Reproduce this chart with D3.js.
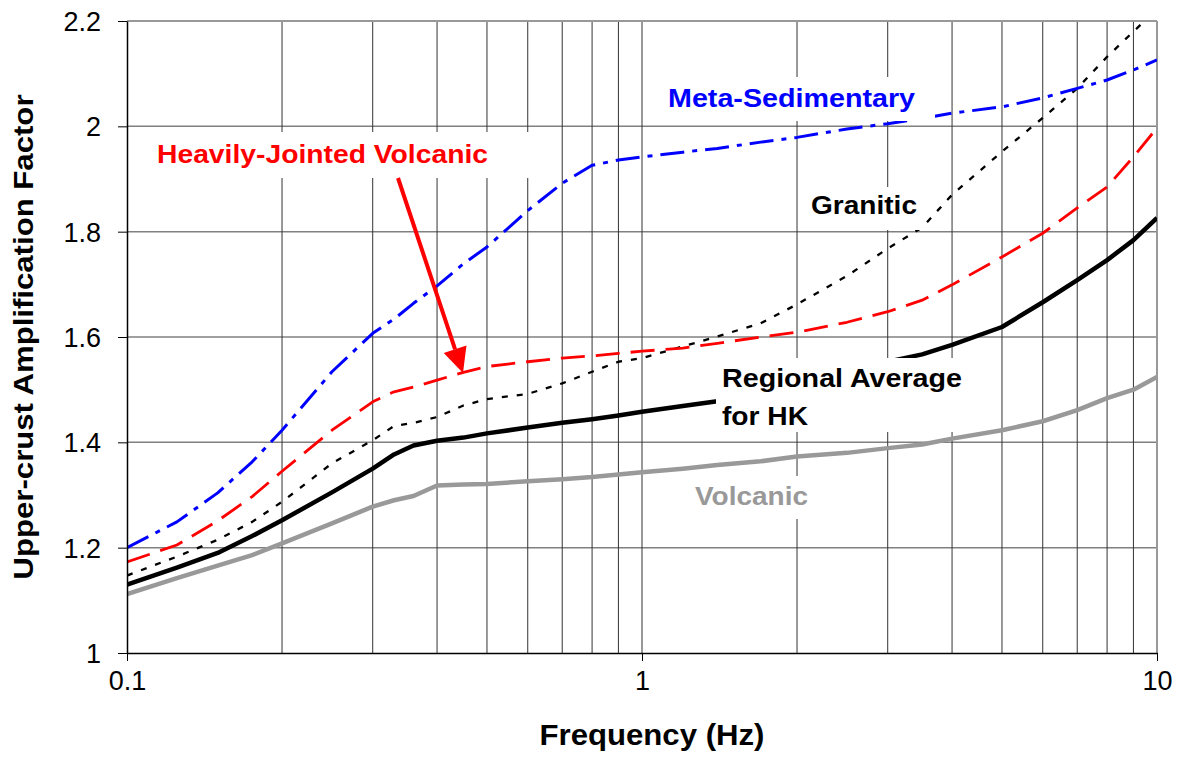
<!DOCTYPE html>
<html><head><meta charset="utf-8">
<script src="https://cdn.jsdelivr.net/npm/d3@7"></script>
<style>
html,body{margin:0;padding:0;background:#fff;}
svg{display:block;font-family:"Liberation Sans",Arial,sans-serif;}
</style></head>
<body>
<svg id="chart" width="1185" height="758"></svg>
<script>
// ---- data ----
const freq = [0.1, 0.125, 0.15, 0.175, 0.2, 0.25, 0.3, 0.33, 0.36, 0.4, 0.45, 0.5, 0.6, 0.7, 0.8, 0.9, 1, 1.2, 1.4, 1.7, 2, 2.5, 3, 3.5, 4, 5, 6, 7, 8, 9, 10];
const regional = [1.130, 1.162, 1.190, 1.222, 1.252, 1.305, 1.350, 1.377, 1.394, 1.403, 1.409, 1.417, 1.428, 1.437, 1.444, 1.451, 1.458, 1.469, 1.478, 1.494, 1.510, 1.533, 1.553, 1.567, 1.585, 1.619, 1.666, 1.708, 1.746, 1.784, 1.826];
const volcanic = [1.112, 1.142, 1.166, 1.186, 1.208, 1.246, 1.278, 1.290, 1.298, 1.318, 1.320, 1.321, 1.326, 1.330, 1.334, 1.339, 1.343, 1.350, 1.357, 1.364, 1.373, 1.380, 1.389, 1.396, 1.407, 1.423, 1.440, 1.461, 1.484, 1.500, 1.524];
const heavilyJointed = [1.173, 1.205, 1.251, 1.297, 1.345, 1.423, 1.477, 1.496, 1.505, 1.518, 1.533, 1.544, 1.553, 1.560, 1.564, 1.569, 1.573, 1.579, 1.588, 1.600, 1.609, 1.628, 1.648, 1.670, 1.699, 1.752, 1.797, 1.845, 1.885, 1.942, 1.997];
const granitic = [1.147, 1.183, 1.215, 1.249, 1.287, 1.360, 1.404, 1.431, 1.437, 1.448, 1.470, 1.482, 1.492, 1.512, 1.534, 1.553, 1.560, 1.582, 1.601, 1.626, 1.662, 1.716, 1.768, 1.808, 1.870, 1.952, 2.016, 2.072, 2.132, 2.180, 2.222];
const metaSedimentary = [1.200, 1.249, 1.304, 1.363, 1.423, 1.534, 1.607, 1.634, 1.664, 1.697, 1.739, 1.771, 1.840, 1.892, 1.926, 1.936, 1.942, 1.951, 1.958, 1.970, 1.979, 1.995, 2.005, 2.015, 2.025, 2.037, 2.054, 2.072, 2.088, 2.107, 2.126];
const xTicks = [0.1, 1, 10];
const xTickLabels = ["0.1", "1", "10"];
const yTicks = [1, 1.2, 1.4, 1.6, 1.8, 2, 2.2];
const yTickLabels = ["1", "1.2", "1.4", "1.6", "1.8", "2", "2.2"];
const xGrid = [0.2,0.3,0.4,0.5,0.6,0.7,0.8,0.9,1,2,3,4,5,6,7,8,9];

// ---- layout ----
const svg = d3.select("#chart");
const L = 127, R = 1157, T = 21, B = 653;
const x = d3.scaleLog().domain([0.1, 10]).range([L, R]);
const y = d3.scaleLinear().domain([1, 2.2]).range([B, T]);

svg.append("defs").append("clipPath").attr("id","plotclip")
  .append("rect").attr("x", L).attr("y", T).attr("width", R-L).attr("height", B-T);

// grid
svg.append("g").selectAll("line").data(yTicks.slice(1)).join("line")
  .attr("x1", L).attr("x2", R).attr("y1", d=>y(d)).attr("y2", d=>y(d))
  .attr("stroke", "#808080").attr("stroke-width", 1.5);
svg.append("g").selectAll("line").data(xGrid).join("line")
  .attr("x1", d=>x(d)).attr("x2", d=>x(d)).attr("y1", T).attr("y2", B)
  .attr("stroke", "#333").attr("stroke-width", 1);

// frame top/right
svg.append("line").attr("x1", L).attr("x2", R).attr("y1", T).attr("y2", T).attr("stroke","#999").attr("stroke-width",2);
svg.append("line").attr("x1", R).attr("x2", R).attr("y1", T).attr("y2", B).attr("stroke","#999").attr("stroke-width",2);

// series
const series = [
  {vals: volcanic, color: "#999999", w: 4.5, dash: null},
  {vals: regional, color: "#000000", w: 4.5, dash: null},
  {vals: granitic, color: "#000000", w: 2.3, dash: "6,9"},
  {vals: heavilyJointed, color: "#FF0000", w: 2.8, dash: "24,11"},
  {vals: metaSedimentary, color: "#0000FF", w: 3, dash: "24,8,5,8"}
];
const line = d3.line().x(d=>x(d[0])).y(d=>y(d[1]));
const gL = svg.append("g").attr("clip-path","url(#plotclip)");
series.forEach(s => {
  gL.append("path").datum(freq.map((f,i)=>[f, s.vals[i]]))
    .attr("d", line).attr("fill","none").attr("stroke", s.color)
    .attr("stroke-width", s.w).attr("stroke-dasharray", s.dash)
    .attr("stroke-linejoin","round");
});

// axes
const xAxis = d3.axisBottom(x).tickValues(xTicks).tickFormat((d,i)=>xTickLabels[i]).tickSize(8).tickSizeOuter(0);
const gx = svg.append("g").attr("transform", `translate(0,${B})`).call(xAxis);
gx.select(".domain").attr("stroke","#000").attr("stroke-width",1.5);
gx.selectAll(".tick line").attr("stroke","#000");
gx.selectAll(".tick text").attr("font-size", 27).attr("fill","#000").attr("dy", 0).attr("y", 37)
  .attr("font-family", '"Liberation Sans",Arial,sans-serif');

const yAxis = d3.axisLeft(y).tickValues(yTicks).tickFormat((d,i)=>yTickLabels[i]).tickSize(9).tickSizeOuter(0);
const gy = svg.append("g").attr("transform", `translate(${L},0)`).call(yAxis);
gy.select(".domain").attr("stroke","#000").attr("stroke-width",1.5);
gy.selectAll(".tick line").attr("stroke","#000");
gy.selectAll(".tick text").attr("font-size", 27).attr("fill","#000").attr("x", -26).attr("dy","0.35em")
  .attr("font-family", '"Liberation Sans",Arial,sans-serif');

// axis titles
svg.append("text").attr("x", 652).attr("y", 745).attr("text-anchor","middle")
  .attr("font-size", 29).attr("font-weight","bold").attr("textLength", 225).attr("lengthAdjust","spacingAndGlyphs")
  .text("Frequency (Hz)");
svg.append("text").attr("transform", `translate(33,${(T+B)/2}) rotate(-90)`).attr("text-anchor","middle")
  .attr("font-size", 27).attr("font-weight","bold").attr("textLength", 485).attr("lengthAdjust","spacingAndGlyphs")
  .text("Upper-crust Amplification Factor");

// labels with white boxes
const labels = [
  {lines:["Meta-Sedimentary"], color:"#0000FF", x:668, y:107, w:[247], box:[650,77,285,44]},
  {lines:["Heavily-Jointed Volcanic"], color:"#FF0000", x:157, y:163, w:[331], box:[148,132,392,46]},
  {lines:["Granitic"], color:"#000000", x:811, y:214, w:[106], box:[800,187,125,43]},
  {lines:["Regional Average","for HK"], color:"#000000", x:722, y:387, w:[240,86], box:[716,358,250,74]},
  {lines:["Volcanic"], color:"#999999", x:695, y:505, w:[113], box:[688,476,127,43]}
];
labels.forEach(l => {
  svg.append("rect").attr("x", l.box[0]).attr("y", l.box[1]).attr("width", l.box[2]).attr("height", l.box[3]).attr("fill","#fff");
  l.lines.forEach((t,i) => {
    svg.append("text").attr("x", l.x).attr("y", l.y + i*38).attr("fill", l.color)
      .attr("font-size", 26.5).attr("font-weight","bold")
      .attr("textLength", l.w[i]).attr("lengthAdjust","spacingAndGlyphs").text(t);
  });
});

// arrow
const ax0 = 398, ay0 = 178, ax1 = 463, ay1 = 373;
const ang = Math.atan2(ay1-ay0, ax1-ax0);
const hl = 25, hw = 12;
const bx = ax1 - hl*Math.cos(ang), by = ay1 - hl*Math.sin(ang);
svg.append("line").attr("x1", ax0).attr("y1", ay0).attr("x2", bx).attr("y2", by)
  .attr("stroke","#FF0000").attr("stroke-width",4);
svg.append("polygon").attr("fill","#FF0000").attr("points", [
  [ax1, ay1],
  [bx + hw*Math.sin(ang), by - hw*Math.cos(ang)],
  [bx - hw*Math.sin(ang), by + hw*Math.cos(ang)]
].map(p=>p.join(",")).join(" "));
</script>
</body></html>
